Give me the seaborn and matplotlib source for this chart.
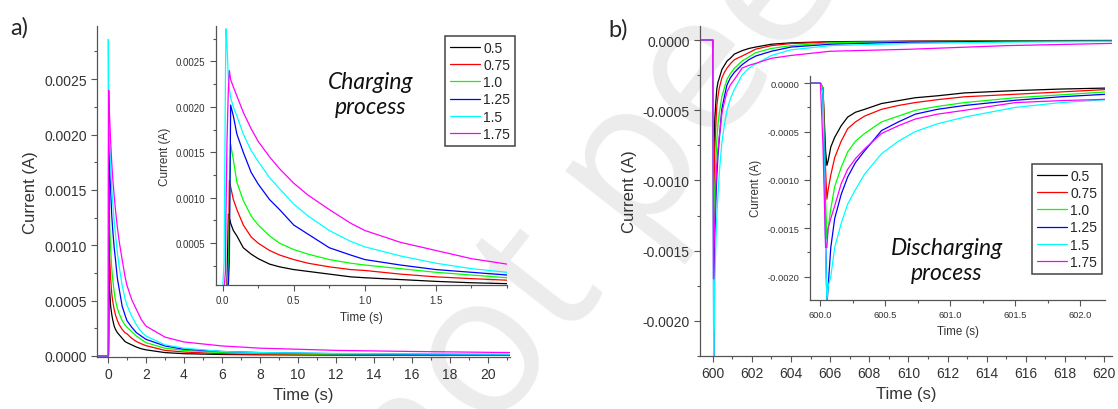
import numpy as np
import pandas as pd
import seaborn as sns
import matplotlib.pyplot as plt
from matplotlib.ticker import MultipleLocator, FormatStrFormatter

# series labels and colours (legend order)
labels = ['0.5', '0.75', '1.0', '1.25', '1.5', '1.75']
colors = ['#000000', '#ff0000', '#00ff00', '#0000ff', '#00ffff', '#ff00ff']

# charging (panel a), time in s, current in A
t_chg = [-0.57, 0.0, 0.01, 0.02, 0.023, 0.03, 0.04, 0.047, 0.056, 0.075, 0.1, 0.145, 0.2, 0.25,
         0.33, 0.4, 0.5, 0.6, 0.75, 0.9, 1.0, 1.25, 1.5, 1.75, 2.0, 3, 4, 6, 8, 12, 16, 21.2]
i_chg_05 = [0, 0, 0, 0, 0, 0.00002, 0.00082, 0.00078, 0.00072, 0.00064, 0.00058, 0.00045, 0.00038, 0.00033,
            0.00027, 0.00024, 0.00021, 0.00019, 0.00016, 0.00013, 0.00012, 0.0001, 0.00008, 0.000065, 0.000055,
            0.00003, 0.00002, 0.000013, 0.00001, 0.000008, 0.000006, 0.000005]
i_chg_075 = [0, 0, 0, 0, 0, 0, 0.0003, 0.00119, 0.00112, 0.00098, 0.00087, 0.0007, 0.00057, 0.0005,
             0.00042, 0.00037, 0.00032, 0.00028, 0.00024, 0.00021, 0.0002, 0.00016, 0.00013, 0.00011, 0.000093,
             0.00005, 0.000035, 0.00002, 0.000015, 0.00001, 0.000008, 0.000006]
i_chg_10 = [0, 0, 0, 0, 0, 0, 0.0002, 0.0008, 0.00159, 0.00142, 0.00117, 0.00097, 0.0008, 0.0007,
            0.00058, 0.0005, 0.00043, 0.00038, 0.00032, 0.00028, 0.00026, 0.00022, 0.00018, 0.00015, 0.00012,
            0.00007, 0.00005, 0.00003, 0.000022, 0.000015, 0.000012, 0.00001]
i_chg_125 = [0, 0, 0, 0, 0, 0, 0.00005, 0.0003, 0.00202, 0.0019, 0.0017, 0.0015, 0.00128, 0.00115,
             0.00098, 0.00087, 0.0007, 0.0006, 0.00045, 0.00037, 0.00032, 0.00026, 0.00021, 0.00018, 0.00015,
             0.00009, 0.00006, 0.00004, 0.00003, 0.00002, 0.000015, 0.000012]
i_chg_15 = [0, 0, 0.0003, 0.0024, 0.00286, 0.0027, 0.0023, 0.0022, 0.0021, 0.002, 0.0019, 0.0017, 0.00152, 0.0014,
            0.00122, 0.0011, 0.00093, 0.0008, 0.00064, 0.00052, 0.00046, 0.00036, 0.00028, 0.00022, 0.00018,
            0.0001, 0.00007, 0.00004, 0.00003, 0.000022, 0.000018, 0.000015]
i_chg_175 = [0, 0, 0, 0.0002, 0.0008, 0.0016, 0.0022, 0.0024, 0.0023, 0.00222, 0.00212, 0.00194, 0.00176, 0.00162,
             0.00145, 0.00132, 0.00116, 0.00103, 0.00087, 0.00072, 0.00064, 0.00051, 0.00042, 0.00033, 0.00027,
             0.00017, 0.000126, 0.00009, 0.00007, 0.00005, 0.00004, 0.00003]

# discharging (panel b)
t_dis = [599.3, 600.0, 600.02, 600.04, 600.05, 600.06, 600.08, 600.11, 600.16, 600.21, 600.27, 600.34, 600.47,
         600.6, 600.73, 600.9, 601.11, 601.5, 601.85, 602.2, 603, 604, 606, 610, 615, 620.4]
i_dis_05 = [0, 0, -0.00005, -0.0007, -0.00085, -0.0008, -0.00066, -0.00056, -0.00044, -0.00035, -0.0003, -0.00027,
            -0.00021, -0.00018, -0.00015, -0.00013, -0.0001, -0.000076, -0.00006, -0.00005, -0.00003, -0.00002,
            -0.000012, -0.000008, -0.000005, -0.000003]
i_dis_075 = [0, 0, -0.00005, -0.0009, -0.0012, -0.0011, -0.00095, -0.00077, -0.0006, -0.00047, -0.0004, -0.00034,
             -0.00027, -0.00023, -0.0002, -0.00017, -0.00014, -0.000114, -0.00009, -0.000065, -0.00004, -0.000025,
             -0.000015, -0.00001, -0.000007, -0.000005]
i_dis_10 = [0, 0, -0.00005, -0.0012, -0.00161, -0.0015, -0.0013, -0.00107, -0.00087, -0.00071, -0.0006, -0.00052,
            -0.0004, -0.00034, -0.00028, -0.00024, -0.0002, -0.00015, -0.00012, -0.00009, -0.00006, -0.00004,
            -0.00002, -0.000012, -0.000008, -0.000006]
i_dis_125 = [0, 0, -0.0001, -0.0016, -0.0023, -0.0021, -0.0017, -0.0014, -0.00115, -0.00097, -0.00082, -0.0007,
             -0.00049, -0.0004, -0.00032, -0.00027, -0.00023, -0.000176, -0.00014, -0.000114, -0.00008, -0.00005,
             -0.00003, -0.000015, -0.00001, -0.000008]
i_dis_15 = [0, 0, -0.0001, -0.0017, -0.00225, -0.0021, -0.002, -0.0017, -0.00145, -0.00125, -0.0011, -0.00094,
            -0.00073, -0.0006, -0.0005, -0.00042, -0.00035, -0.00025, -0.0002, -0.00017, -0.00011, -0.00007,
            -0.00004, -0.000025, -0.000015, -0.00001]
i_dis_175 = [0, 0, -0.00065, -0.0017, -0.0017, -0.0015, -0.0014, -0.00127, -0.00104, -0.00089, -0.00078, -0.00068,
             -0.00052, -0.00044, -0.00037, -0.00032, -0.00028, -0.0002, -0.00018, -0.000166, -0.00013, -0.00011,
             -0.00008, -0.000066, -0.00004, -0.000024]


def long_df(t, series):
    parts = [pd.DataFrame({'t': t, 'I': vals, 'V': lab}) for lab, vals in zip(labels, series)]
    return pd.concat(parts, ignore_index=True)


chg = long_df(t_chg, [i_chg_05, i_chg_075, i_chg_10, i_chg_125, i_chg_15, i_chg_175])
dis = long_df(t_dis, [i_dis_05, i_dis_075, i_dis_10, i_dis_125, i_dis_15, i_dis_175])

sns.set_style('ticks')
plt.rcParams['font.family'] = ['Liberation Sans', 'DejaVu Sans']
plt.rcParams['axes.edgecolor'] = '#555555'
plt.rcParams['xtick.color'] = '#555555'
plt.rcParams['ytick.color'] = '#555555'
plt.rcParams['xtick.labelcolor'] = '#333333'
plt.rcParams['ytick.labelcolor'] = '#333333'
plt.rcParams['axes.labelcolor'] = '#333333'

fig = plt.figure(figsize=(11.18, 4.10), dpi=100)
fig.patch.set_facecolor('white')

# watermark behind everything
fig.text(0.372, -0.30, 'not peer reviewed', family='Open Sans', fontsize=142, color='#ececec',
         rotation=52, rotation_mode='anchor', ha='left', va='baseline', zorder=-1)

palette = dict(zip(labels, colors))


def style_axes(ax, xmaj, xmin, ymaj, ymin, xfmt, tick_fs, label_fs):
    sns.despine(ax=ax)
    ax.set_facecolor('none')
    ax.xaxis.set_major_locator(MultipleLocator(xmaj))
    ax.xaxis.set_minor_locator(MultipleLocator(xmin))
    ax.yaxis.set_major_locator(MultipleLocator(ymaj))
    ax.yaxis.set_minor_locator(MultipleLocator(ymin))
    ax.xaxis.set_major_formatter(FormatStrFormatter(xfmt))
    ax.yaxis.set_major_formatter(FormatStrFormatter('%.4f'))
    ax.tick_params(which='major', direction='out', length=4, width=0.8, labelsize=tick_fs)
    ax.tick_params(which='minor', direction='out', length=2.5, width=0.8)
    ax.set_xlabel('Time (s)', fontsize=label_fs)
    ax.set_ylabel('Current (A)', fontsize=label_fs)
    for s in ax.spines.values():
        s.set_linewidth(0.9)


def draw(ax, df):
    sns.lineplot(data=df, x='t', y='I', hue='V', hue_order=labels, palette=palette,
                 estimator=None, sort=False, linewidth=0.9, ax=ax, legend=False)


# panel a
ax_a = fig.add_axes([0.0868, 0.1268, 0.3694, 0.8073])
draw(ax_a, chg)
ax_a.set_xlim(-0.57, 21.16)
ax_a.set_ylim(-0.00001, 0.00298)
style_axes(ax_a, 2, 1, 0.0005, 0.00025, '%d', 10, 12)

in_a = fig.add_axes([0.1932, 0.3024, 0.2603, 0.6317])
draw(in_a, chg)
in_a.set_xlim(-0.047, 2.0)
in_a.set_ylim(0.00004, 0.00289)
style_axes(in_a, 0.5, 0.25, 0.0005, 0.00025, '%.1f', 7, 8.5)
in_a.yaxis.set_major_locator(plt.FixedLocator([0.0005, 0.001, 0.0015, 0.002, 0.0025]))
in_a.xaxis.set_major_locator(plt.FixedLocator([0.0, 0.5, 1.0, 1.5]))

# panel b
ax_b = fig.add_axes([0.6261, 0.1293, 0.3685, 0.8049])
draw(ax_b, dis)
ax_b.set_xlim(599.35, 620.4)
ax_b.set_ylim(-0.00225, 0.0001)
style_axes(ax_b, 2, 1, 0.0005, 0.00025, '%d', 10, 12)

in_b = fig.add_axes([0.7245, 0.2666, 0.2639, 0.5456])
draw(in_b, dis)
in_b.set_xlim(599.92, 602.19)
in_b.set_ylim(-0.00224, 0.000075)
style_axes(in_b, 0.5, 0.25, 0.0005, 0.00025, '%.1f', 6.7, 8.3)

# legends
handles = [plt.Line2D([], [], color=c, linewidth=0.9) for c in colors]
for ax, anchor in [(in_a, (515 / 1118, 1 - 37 / 410)), (in_b, (1102 / 1118, 1 - 165 / 410))]:
    leg = ax.legend(handles, labels, loc='upper right', bbox_to_anchor=anchor,
                    bbox_transform=fig.transFigure, fontsize=10, frameon=True, fancybox=False,
                    framealpha=1, edgecolor='#444444', handlelength=2.2, handletextpad=0.2,
                    labelspacing=0.23, borderpad=0.35, borderaxespad=0)
    leg.get_frame().set_linewidth(1.1)

# annotations
fig.text(0.3318, 0.768, 'Charging\nprocess', family='Lato', style='italic', fontsize=16.5,
         ha='center', va='center', linespacing=1.2, color='#111111')
fig.text(0.847, 0.363, 'Discharging\nprocess', family='Lato', style='italic', fontsize=16.5,
         ha='center', va='center', linespacing=1.2, color='#111111')
fig.text(0.009, 0.932, 'a)', family='Lato', fontsize=17, ha='left', va='center')
fig.text(0.544, 0.927, 'b)', family='Lato', fontsize=17, ha='left', va='center')

fig.savefig('out.png', dpi=100)
